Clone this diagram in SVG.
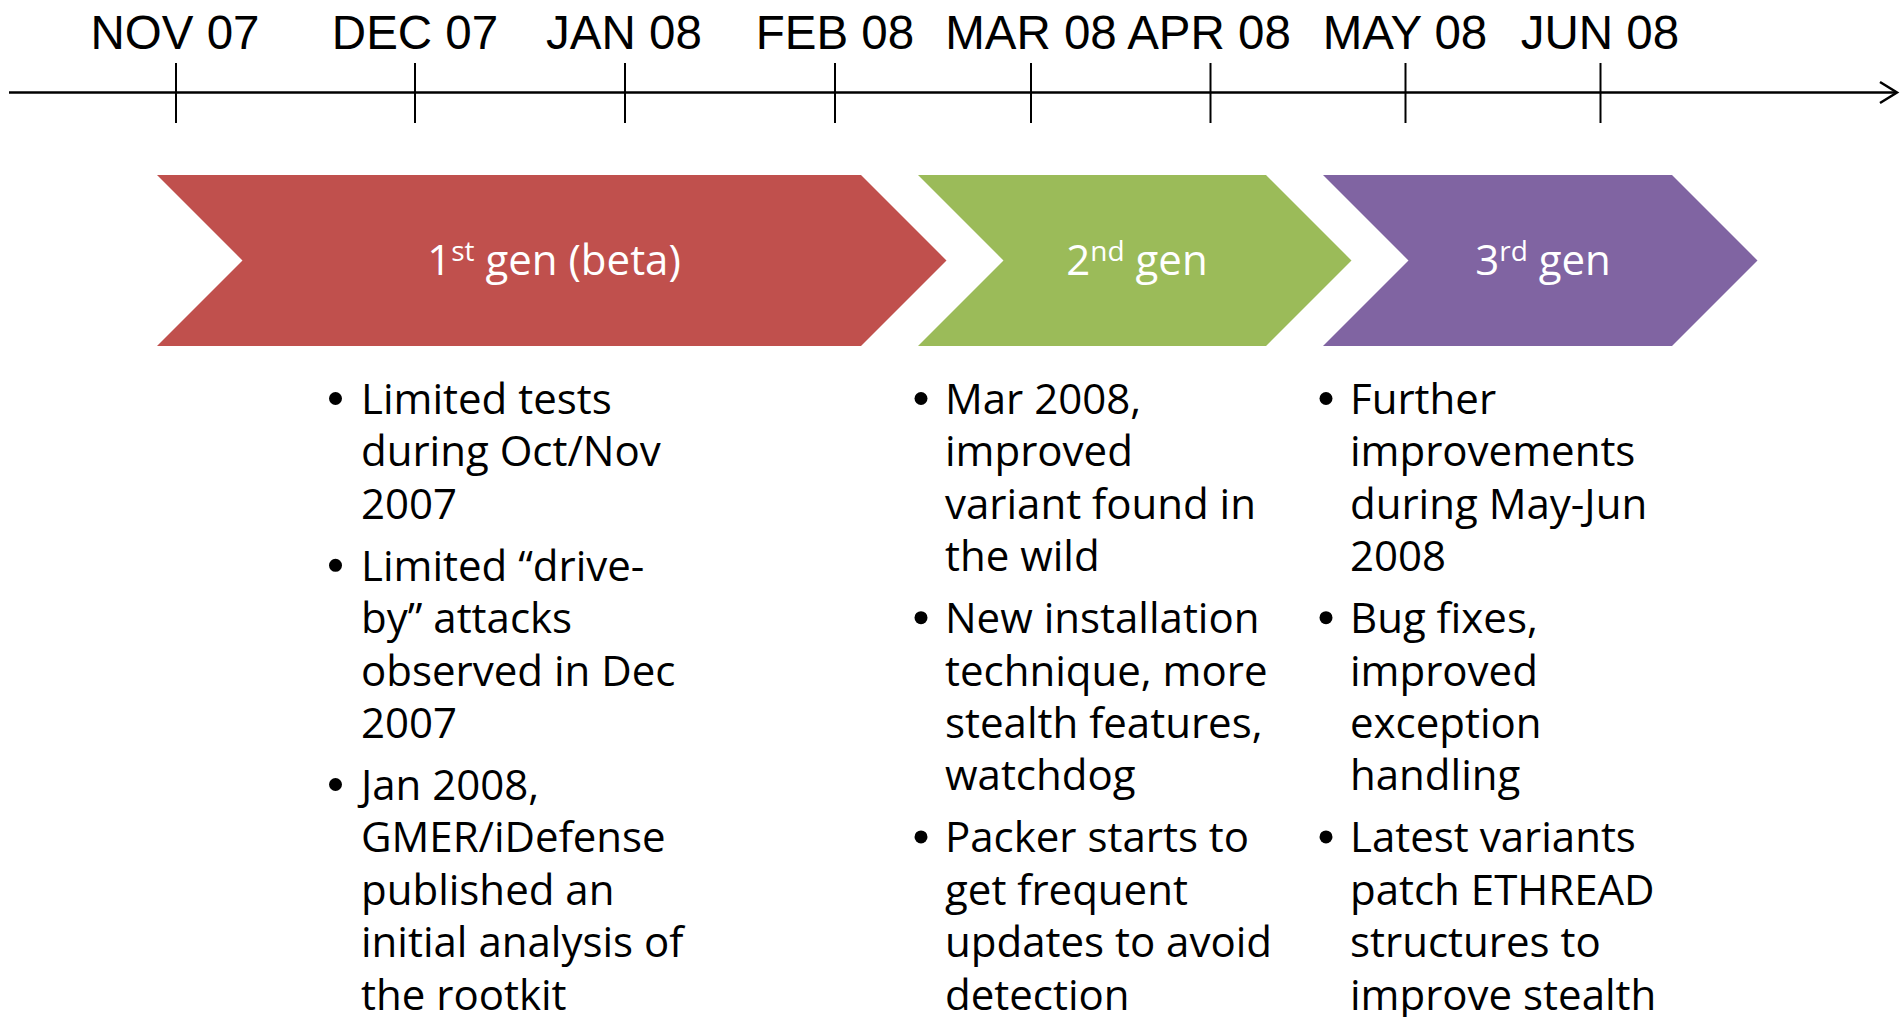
<svg xmlns="http://www.w3.org/2000/svg" width="1904" height="1017" viewBox="0 0 1904 1017">
<style>
.axis{stroke:#000;stroke-width:2.5;fill:none}
.tick{stroke:#000;stroke-width:2}
.month{font-family:"Liberation Sans",Arial,sans-serif;font-size:47.5px;fill:#000;text-anchor:middle}
.chev-label{font-family:"Open Sans","Liberation Sans",sans-serif;font-size:42px;fill:#fff;text-anchor:middle}
.sup{font-size:28px}
.body{font-family:"Open Sans","Liberation Sans",sans-serif;font-size:42px;fill:#000}
.bullet{fill:#000}
</style>
<rect width="1904" height="1017" fill="#fff"/>
<g id="connectors">
  <g id="timeline-axis">
    <line class="axis" x1="9" y1="92.5" x2="1896" y2="92.5"/>
    <polyline class="axis" points="1880,82 1897,92.5 1880,103"/>
  </g>
  <g id="ticks">
    <line class="tick" x1="176" y1="63" x2="176" y2="123"/>
    <line class="tick" x1="415" y1="63" x2="415" y2="123"/>
    <line class="tick" x1="625" y1="63" x2="625" y2="123"/>
    <line class="tick" x1="835" y1="63" x2="835" y2="123"/>
    <line class="tick" x1="1031" y1="63" x2="1031" y2="123"/>
    <line class="tick" x1="1210.5" y1="63" x2="1210.5" y2="123"/>
    <line class="tick" x1="1405.5" y1="63" x2="1405.5" y2="123"/>
    <line class="tick" x1="1600.5" y1="63" x2="1600.5" y2="123"/>
  </g>
</g>
<g id="month-labels">
  <text class="month" x="175" y="49">NOV 07</text>
  <text class="month" x="415" y="49">DEC 07</text>
  <text class="month" x="624" y="49">JAN 08</text>
  <text class="month" x="835" y="49">FEB 08</text>
  <text class="month" x="1031" y="49">MAR 08</text>
  <text class="month" x="1209" y="49">APR 08</text>
  <text class="month" x="1405" y="49">MAY 08</text>
  <text class="month" x="1600" y="49">JUN 08</text>
</g>
<g id="gen1">
  <polygon fill="#C0504D" points="157,175 861,175 946.5,260.5 861,346 157,346 242.5,260.5"/>
  <text class="chev-label" x="554" y="275">1<tspan class="sup" dy="-14">st</tspan><tspan dy="14"> gen (beta)</tspan></text>
</g>
<g id="gen2">
  <polygon fill="#9BBB59" points="918,175 1266,175 1351.5,260.5 1266,346 918,346 1003.5,260.5"/>
  <text class="chev-label" x="1137" y="275">2<tspan class="sup" dy="-14">nd</tspan><tspan dy="14"> gen</tspan></text>
</g>
<g id="gen3">
  <polygon fill="#8064A2" points="1323,175 1672,175 1757.5,260.5 1672,346 1323,346 1408.5,260.5"/>
  <text class="chev-label" x="1543" y="275">3<tspan class="sup" dy="-14">rd</tspan><tspan dy="14"> gen</tspan></text>
</g>
<g id="notes-gen1">
  <circle class="bullet" cx="335.5" cy="398.5" r="6.5"/>
  <circle class="bullet" cx="335.5" cy="565.3" r="6.5"/>
  <circle class="bullet" cx="335.5" cy="784.5" r="6.5"/>
  <text class="body" x="361" y="414">Limited tests</text>
  <text class="body" x="361" y="466.4">during Oct/Nov</text>
  <text class="body" x="361" y="518.8">2007</text>
  <text class="body" x="361" y="580.8">Limited “drive-</text>
  <text class="body" x="361" y="633.2">by” attacks</text>
  <text class="body" x="361" y="685.6">observed in Dec</text>
  <text class="body" x="361" y="738">2007</text>
  <text class="body" x="361" y="800">Jan 2008,</text>
  <text class="body" x="361" y="852.4">GMER/iDefense</text>
  <text class="body" x="361" y="904.8">published an</text>
  <text class="body" x="361" y="957.2">initial analysis of</text>
  <text class="body" x="361" y="1009.6">the rootkit</text>
</g>
<g id="notes-gen2">
  <circle class="bullet" cx="921" cy="398.5" r="6.5"/>
  <circle class="bullet" cx="921" cy="617.7" r="6.5"/>
  <circle class="bullet" cx="921" cy="836.9" r="6.5"/>
  <text class="body" x="945" y="414">Mar 2008,</text>
  <text class="body" x="945" y="466.4">improved</text>
  <text class="body" x="945" y="518.8">variant found in</text>
  <text class="body" x="945" y="571.2">the wild</text>
  <text class="body" x="945" y="633.2">New installation</text>
  <text class="body" x="945" y="685.6">technique, more</text>
  <text class="body" x="945" y="738">stealth features,</text>
  <text class="body" x="945" y="790.4">watchdog</text>
  <text class="body" x="945" y="852.4">Packer starts to</text>
  <text class="body" x="945" y="904.8">get frequent</text>
  <text class="body" x="945" y="957.2">updates to avoid</text>
  <text class="body" x="945" y="1009.6">detection</text>
</g>
<g id="notes-gen3">
  <circle class="bullet" cx="1326" cy="398.5" r="6.5"/>
  <circle class="bullet" cx="1326" cy="617.7" r="6.5"/>
  <circle class="bullet" cx="1326" cy="836.9" r="6.5"/>
  <text class="body" x="1350" y="414">Further</text>
  <text class="body" x="1350" y="466.4">improvements</text>
  <text class="body" x="1350" y="518.8">during May-Jun</text>
  <text class="body" x="1350" y="571.2">2008</text>
  <text class="body" x="1350" y="633.2">Bug fixes,</text>
  <text class="body" x="1350" y="685.6">improved</text>
  <text class="body" x="1350" y="738">exception</text>
  <text class="body" x="1350" y="790.4">handling</text>
  <text class="body" x="1350" y="852.4">Latest variants</text>
  <text class="body" x="1350" y="904.8">patch ETHREAD</text>
  <text class="body" x="1350" y="957.2">structures to</text>
  <text class="body" x="1350" y="1009.6">improve stealth</text>
</g>
</svg>
